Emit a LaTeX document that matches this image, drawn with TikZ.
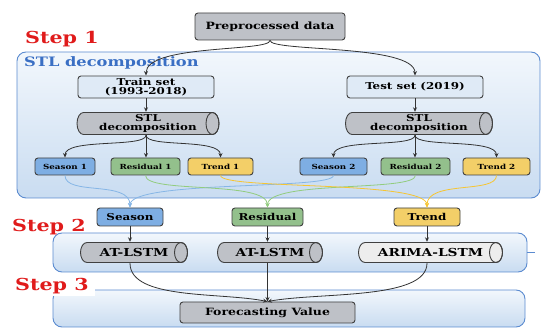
\documentclass[tikz,border=0pt]{standalone}
\usepackage{fontspec}
\setmainfont{DejaVu Serif}[FakeStretch=1.25]
\usetikzlibrary{arrows.meta}
\definecolor{panelborder}{HTML}{5B8BD0}
\definecolor{paneltop}{HTML}{F2F7FC}
\definecolor{panelbot}{HTML}{C9DCF1}
\definecolor{boxgray}{HTML}{BEC1C7}
\definecolor{setblue}{HTML}{DFEAF6}
\definecolor{seasonc}{HTML}{7EAEE3}
\definecolor{residc}{HTML}{93C08C}
\definecolor{trendc}{HTML}{F3CF68}
\definecolor{lineblue}{HTML}{86B6E6}
\definecolor{linegreen}{HTML}{92CC7E}
\definecolor{lineyellow}{HTML}{F6C532}
\definecolor{steptext}{HTML}{E01B1B}
\definecolor{stltext}{HTML}{3A6FC4}
\definecolor{lightcyl}{HTML}{EDEDED}
\tikzset{
  panel/.style={draw=panelborder, line width=0.9pt, rounded corners=9pt, top color=paneltop, bottom color=panelbot},
  box/.style={draw=black!75, line width=0.9pt, rounded corners=3pt, inner sep=1pt, align=center, font=\bfseries},
  cylbox/.style 2 args={inner sep=1pt, align=center, minimum height=2*#2, font=\bfseries,
    path picture={
      \path[fill=#1, draw=black!75, line width=0.9pt]
        ([xshift=7pt, yshift=-0.5pt]path picture bounding box.north west)
        -- ([xshift=-7pt, yshift=-0.5pt]path picture bounding box.north east)
        arc[start angle=90, end angle=-90, x radius=6.5pt, y radius=#2-0.5pt]
        -- ([xshift=7pt, yshift=0.5pt]path picture bounding box.south west)
        arc[start angle=270, end angle=90, x radius=6.5pt, y radius=#2-0.5pt] -- cycle;
      \draw[black!75, line width=0.9pt] ([xshift=-7pt]path picture bounding box.east)
        ellipse[x radius=6.5pt, y radius=#2-0.5pt];
    }},
  arr/.style={-{Stealth[length=4.5pt,width=4pt]}, line width=0.8pt, black!80},
  carr/.style={-{Stealth[length=4.5pt,width=4pt]}, line width=0.8pt},
  steplabel/.style={text=steptext, font=\fontsize{16.5}{18}\selectfont\bfseries, inner sep=2pt},
}
\begin{document}
\begin{tikzpicture}[x=1pt,y=-1pt]
\useasboundingbox (0,0) rectangle (541,328);
% panels
\draw[panel] (17,52) rectangle (540,198);
\draw[panel] (53,233) rectangle (527,272);
\draw[panelborder, line width=0.9pt] (527,252) -- (535,252);
\draw[panel] (53,290) rectangle (525,327);
% step labels
\node[steplabel, anchor=west] (st1) at (23,39) {Step 1};
\node[steplabel, anchor=west] (st2) at (10,227.5) {Step 2};
\node[steplabel, anchor=west, fill=white, inner xsep=6pt] (st3) at (9,286) {Step 3};
\node[anchor=west, text=stltext, font=\fontsize{13}{14}\selectfont\bfseries, inner sep=0pt] (stlt) at (24,62.5) {STL decomposition};
% top
\node[box, fill=boxgray, minimum width=150, minimum height=27, font=\fontsize{10}{11}\selectfont\bfseries] (pre) at (270,26.5) {Preprocessed data};
\node[box, fill=setblue, minimum width=136, minimum height=22, font=\fontsize{9.5}{9.5}\selectfont\bfseries] (train) at (146,87) {Train set\\(1993-2018)};
\node[box, fill=setblue, minimum width=136, minimum height=22, font=\fontsize{9.5}{10}\selectfont\bfseries] (test) at (415,87) {Test set (2019)};
\node[cylbox={boxgray}{11.5pt}, minimum width=143, font=\fontsize{9.5}{9.5}\selectfont\bfseries] (stl1) at (148,123.5) {STL\\decomposition};
\node[cylbox={boxgray}{11.5pt}, minimum width=148, font=\fontsize{9.5}{9.5}\selectfont\bfseries] (stl2) at (419,123.5) {STL\\decomposition};
% leaves
\tikzset{leaf/.style={box, minimum height=17, font=\fontsize{7}{8}\selectfont\bfseries}}
\node[leaf, fill=seasonc, minimum width=60] (s1) at (65,166.5) {Season 1};
\node[leaf, fill=residc, minimum width=69] (r1) at (145.5,166.5) {Residual 1};
\node[leaf, fill=trendc, minimum width=65] (t1) at (220.5,166.5) {Trend 1};
\node[leaf, fill=seasonc, minimum width=67] (s2) at (333.5,166.5) {Season 2};
\node[leaf, fill=residc, minimum width=69] (r2) at (415.5,166.5) {Residual 2};
\node[leaf, fill=trendc, minimum width=67] (t2) at (496.5,166.5) {Trend 2};
% merged
\tikzset{mid/.style={box, minimum height=18, font=\fontsize{9.5}{10}\selectfont\bfseries}}
\node[mid, fill=seasonc, minimum width=66] (season) at (130,217) {Season};
\node[mid, fill=residc, minimum width=71] (resid) at (267.5,217) {Residual};
\node[mid, fill=trendc, minimum width=66] (trend) at (427,217) {Trend};
% models
\node[cylbox={boxgray}{10.5pt}, minimum width=108, font=\fontsize{11}{11}\selectfont\bfseries] (l1) at (134,252.5) {AT-LSTM};
\node[cylbox={boxgray}{10.5pt}, minimum width=106, font=\fontsize{11}{11}\selectfont\bfseries] (l2) at (270,252.5) {AT-LSTM};
\node[cylbox={lightcyl}{10.5pt}, minimum width=145, font=\fontsize{11}{11}\selectfont\bfseries] (ar) at (430.5,252.5) {ARIMA-LSTM};
\node[box, fill=boxgray, minimum width=175, minimum height=21, font=\fontsize{10}{11}\selectfont\bfseries] (fore) at (267.5,312.5) {Forecasting Value};
% connectors top
\draw[arr] (pre.south) .. controls (270,52) and (146,44) .. (train.north);
\draw[arr] (pre.south) .. controls (270,52) and (415,44) .. (test.north);
\draw[arr] (train.south) -- (train.south |- stl1.north);
\draw[arr] (test.south) -- (test.south |- stl2.north);
% decomposition branches
\coordinate (b1) at (stl1.south -| train.south);
\coordinate (b2) at (stl2.south -| test.south);
\draw[arr] (b1) .. controls (146,148) and (65,138) .. (s1.north);
\draw[arr] (b1) -- (b1 |- r1.north);
\draw[arr] (b1) .. controls (146,148) and (220.5,138) .. (t1.north);
\draw[arr] (b2) .. controls (415,148) and (333.5,138) .. (s2.north);
\draw[arr] (b2) -- (b2 |- r2.north);
\draw[arr] (b2) .. controls (415,148) and (496.5,138) .. (t2.north);
% coloured connectors
\draw[carr, lineblue] (s1.south) .. controls (65,196) and (130,180) .. (season.north);
\draw[carr, lineblue] (s2.south) .. controls (333.5,190) and (130,180) .. (season.north);
\draw[carr, linegreen] (r1.south) .. controls (145.5,194) and (267.5,180) .. (resid.north);
\draw[carr, linegreen] (r2.south) .. controls (415.5,192) and (267.5,180) .. (resid.north);
\draw[carr, lineyellow] (t1.south) .. controls (220.5,190) and (427,180) .. (trend.north);
\draw[carr, lineyellow] (t2.south) .. controls (496.5,194) and (427,180) .. (trend.north);
% models
\draw[arr] (season.south) -- (season.south |- l1.north);
\draw[arr] (resid.south) -- (resid.south |- l2.north);
\draw[arr] (trend.south) -- (trend.south |- ar.north);
\draw[arr] (l1.south -| season.south) .. controls (130,300) and (220,292) .. (fore.north);
\draw[arr] (l2.south -| resid.south) -- (fore.north);
\draw[arr] (ar.south -| trend.south) .. controls (427,300) and (320,292) .. (fore.north);
\end{tikzpicture}
\end{document}
